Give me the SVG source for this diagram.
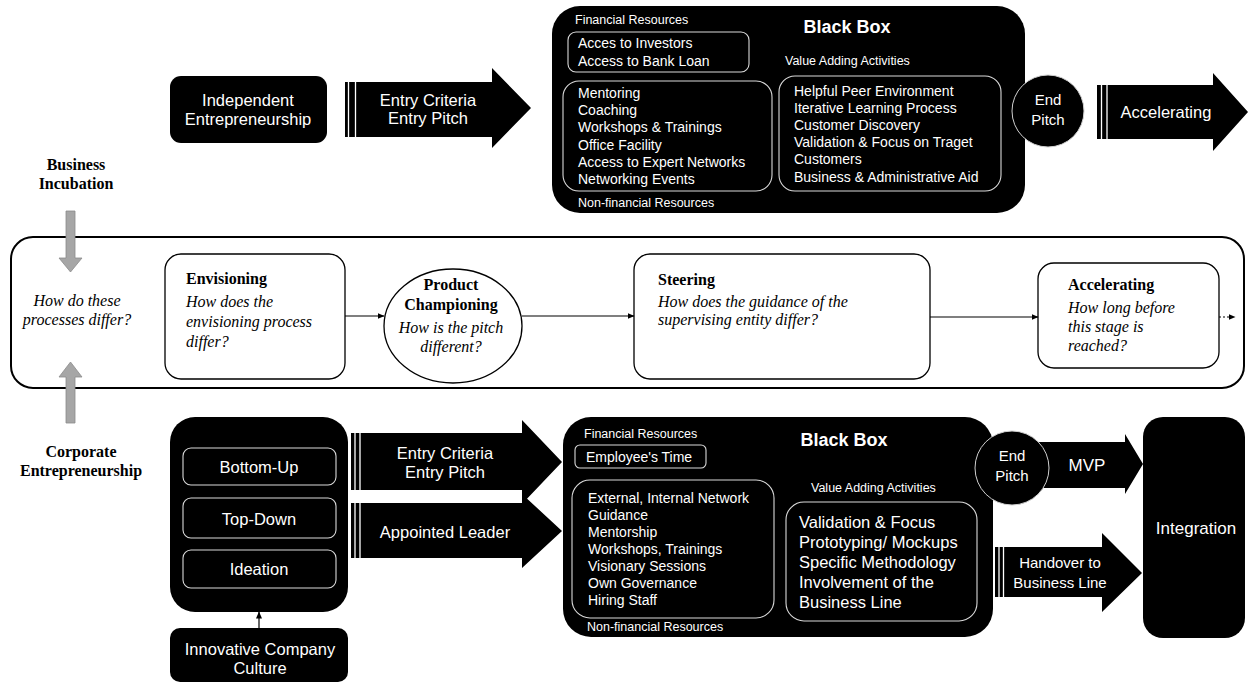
<svg xmlns="http://www.w3.org/2000/svg" width="1251" height="683" viewBox="0 0 1251 683">
<style>
.bk{fill:#000}
.in{fill:none;stroke:#d9d9d9;stroke-width:1.1}
.wt{font-family:"Liberation Sans",Arial,sans-serif;fill:#fff}
.s14{font-size:14px}
.s12{font-size:12.5px}
.lab{font-size:16.5px;text-anchor:middle}
.bb{font-size:18px;font-weight:bold;text-anchor:middle}
.ser{font-family:"Liberation Serif","Times New Roman",serif;fill:#000;font-size:16px}
.b{font-weight:bold}
.i{font-style:italic}
.mid{text-anchor:middle}
.box{fill:#fff;stroke:#000;stroke-width:1.3}
.stripe{stroke:#fff;stroke-width:1.3}
.gray{fill:#a6a6a6;stroke:#8c8c8c;stroke-width:0.8}
.ep{fill:#000;stroke:#d0d0d0;stroke-width:1}
.con{stroke:#000;stroke-width:1.2;fill:none}
</style>
<defs>
<marker id="ah" markerWidth="7" markerHeight="6" refX="6.5" refY="3" orient="auto" markerUnits="userSpaceOnUse">
<path d="M0,0 L7,3 L0,6 Z" fill="#000"/>
</marker>
</defs>

<!-- side labels -->
<g id="label-business-incubation">
<text class="ser b mid" x="76" y="170">Business</text>
<text class="ser b mid" x="76" y="189">Incubation</text>
</g>
<g id="label-corporate">
<text class="ser b mid" x="81" y="457">Corporate</text>
<text class="ser b mid" x="81" y="476">Entrepreneurship</text>
</g>

<!-- middle frame -->
<g id="comparison-frame">
<rect x="11" y="237" width="1233" height="151" rx="22" fill="#fff" stroke="#000" stroke-width="2"/>
<text class="ser i mid" x="77" y="306">How do these</text>
<text class="ser i mid" x="77" y="325">processes  differ?</text>
</g>

<g id="envisioning">
<rect class="box" x="165" y="254" width="180" height="125" rx="16"/>
<text class="ser b" x="186" y="284">Envisioning</text>
<text class="ser i" x="186" y="307">How does the</text>
<text class="ser i" x="186" y="327">envisioning process</text>
<text class="ser i" x="186" y="347">differ?</text>
</g>

<g id="product-championing">
<ellipse cx="453" cy="326" rx="69" ry="57" fill="#fff" stroke="#000" stroke-width="1.3"/>
<text class="ser b mid" x="451" y="290">Product</text>
<text class="ser b mid" x="451" y="310">Championing</text>
<text class="ser i mid" x="451" y="333">How is the pitch</text>
<text class="ser i mid" x="451" y="352">different?</text>
</g>

<g id="steering">
<rect class="box" x="634" y="254" width="296" height="125" rx="16"/>
<text class="ser b" x="658" y="285">Steering</text>
<text class="ser i" x="658" y="307">How does the guidance of the</text>
<text class="ser i" x="658" y="325">supervising  entity differ?</text>
</g>

<g id="accelerating-stage">
<rect class="box" x="1038" y="263" width="181" height="105" rx="16"/>
<text class="ser b" x="1068" y="290">Accelerating</text>
<text class="ser i" x="1068" y="313">How long before</text>
<text class="ser i" x="1068" y="332">this stage is</text>
<text class="ser i" x="1068" y="351">reached?</text>
</g>

<!-- top row -->
<g id="independent-entrepreneurship">
<rect class="bk" x="170" y="76" width="157" height="67" rx="11"/>
<text class="wt lab" x="248" y="106">Independent</text>
<text class="wt lab" x="248" y="125">Entrepreneurship</text>
</g>

<g id="entry-arrow-top">
<polygon class="bk" points="345,82 492,82 492,68 531,108 492,148 492,137 345,137"/>
<line class="stripe" x1="348.5" y1="82" x2="348.5" y2="137"/>
<line class="stripe" x1="355.5" y1="82" x2="355.5" y2="137"/>
<text class="wt lab" x="428" y="106">Entry Criteria</text>
<text class="wt lab" x="428" y="124">Entry Pitch</text>
</g>

<g id="black-box-top">
<rect class="bk" x="552" y="6" width="473" height="207" rx="28"/>
<text class="wt s12" x="575" y="24">Financial Resources</text>
<text class="wt bb" x="847" y="33">Black Box</text>
<rect class="in" x="568" y="32" width="181" height="40" rx="8"/>
<text class="wt s14" x="578" y="48">Acces to Investors</text>
<text class="wt s14" x="578" y="66">Access to Bank Loan</text>
<text class="wt s12" x="785" y="65">Value Adding Activities</text>
<rect class="in" x="563" y="81" width="209" height="110" rx="16"/>
<text class="wt s14" x="578" y="98">Mentoring</text>
<text class="wt s14" x="578" y="115">Coaching</text>
<text class="wt s14" x="578" y="132">Workshops &amp; Trainings</text>
<text class="wt s14" x="578" y="150">Office Facility</text>
<text class="wt s14" x="578" y="167">Access to Expert Networks</text>
<text class="wt s14" x="578" y="184">Networking Events</text>
<rect class="in" x="779" y="76" width="222" height="115" rx="16"/>
<text class="wt s14" x="794" y="96">Helpful Peer Environment</text>
<text class="wt s14" x="794" y="113">Iterative Learning Process</text>
<text class="wt s14" x="794" y="130">Customer Discovery</text>
<text class="wt s14" x="794" y="147">Validation &amp; Focus on Traget</text>
<text class="wt s14" x="794" y="164">Customers</text>
<text class="wt s14" x="794" y="182">Business &amp; Administrative Aid</text>
<text class="wt s12" x="578" y="207">Non-financial Resources</text>
</g>

<g id="end-pitch-top">
<circle class="ep" cx="1048" cy="111" r="36"/>
<text class="wt mid" style="font-size:15px" x="1048" y="105">End</text>
<text class="wt mid" style="font-size:15px" x="1048" y="125">Pitch</text>
</g>

<g id="accelerating-arrow">
<polygon class="bk" points="1097,85 1213,85 1213,73 1248,112 1213,151 1213,139 1097,139"/>
<line class="stripe" x1="1101.5" y1="85" x2="1101.5" y2="139"/>
<line class="stripe" x1="1107" y1="85" x2="1107" y2="139"/>
<text class="wt lab" x="1166" y="118">Accelerating</text>
</g>

<!-- gray arrows -->
<g id="gray-arrow-down">
<polygon class="gray" points="66,211 75,211 75,258 82,258 70.5,272 59,258 66,258"/>
</g>
<g id="gray-arrow-up">
<polygon class="gray" points="70.5,362 82,377 75,377 75,423 66,423 66,377 59,377"/>
</g>

<!-- bottom row -->
<g id="origin-container">
<rect class="bk" x="170" y="417" width="178" height="195" rx="25"/>
<rect class="in" x="183" y="448" width="153" height="37" rx="8"/>
<text class="wt lab" x="259" y="473">Bottom-Up</text>
<rect class="in" x="183" y="498" width="153" height="40" rx="8"/>
<text class="wt lab" x="259" y="525">Top-Down</text>
<rect class="in" x="183" y="550" width="153" height="38" rx="8"/>
<text class="wt lab" x="259" y="575">Ideation</text>
</g>

<g id="innovative-culture">
<rect class="bk" x="170" y="628" width="178" height="54" rx="10"/>
<text class="wt lab" x="260" y="655">Innovative Company</text>
<text class="wt lab" x="260" y="674">Culture</text>
</g>

<g id="entry-arrow-bottom">
<polygon class="bk" points="351,433 522,433 522,420 562,462 522,504 522,490 351,490"/>
<line class="stripe" x1="355" y1="433" x2="355" y2="490"/>
<line class="stripe" x1="360" y1="433" x2="360" y2="490"/>
<text class="wt lab" x="445" y="459">Entry Criteria</text>
<text class="wt lab" x="445" y="478">Entry Pitch</text>
</g>

<g id="appointed-leader-arrow">
<polygon class="bk" points="351,503 522,503 522,494 562,531 522,568 522,558 351,558"/>
<line class="stripe" x1="355" y1="503" x2="355" y2="558"/>
<line class="stripe" x1="360" y1="503" x2="360" y2="558"/>
<text class="wt lab" x="445" y="538">Appointed Leader</text>
</g>

<g id="black-box-bottom">
<rect class="bk" x="563" y="417" width="430" height="220" rx="28"/>
<text class="wt s12" x="584" y="438">Financial Resources</text>
<text class="wt bb" x="844" y="446">Black Box</text>
<rect class="in" x="575" y="445" width="131" height="23" rx="5"/>
<text class="wt s14" x="586" y="462">Employee's Time</text>
<rect class="in" x="572" y="480" width="202" height="138" rx="18"/>
<text class="wt s14" x="588" y="503">External, Internal Network</text>
<text class="wt s14" x="588" y="520">Guidance</text>
<text class="wt s14" x="588" y="537">Mentorship</text>
<text class="wt s14" x="588" y="554">Workshops, Trainings</text>
<text class="wt s14" x="588" y="571">Visionary Sessions</text>
<text class="wt s14" x="588" y="588">Own Governance</text>
<text class="wt s14" x="588" y="605">Hiring Staff</text>
<text class="wt s12" x="587" y="631">Non-financial Resources</text>
<text class="wt s12" x="811" y="492">Value Adding Activities</text>
<rect class="in" x="786" y="502" width="191" height="119" rx="18"/>
<text class="wt" style="font-size:16.5px" x="799" y="528">Validation &amp; Focus</text>
<text class="wt" style="font-size:16.5px" x="799" y="548">Prototyping/ Mockups</text>
<text class="wt" style="font-size:16.5px" x="799" y="568">Specific Methodology</text>
<text class="wt" style="font-size:16.5px" x="799" y="588">Involvement of the</text>
<text class="wt" style="font-size:16.5px" x="799" y="608">Business Line</text>
</g>

<g id="mvp-arrow">
<polygon class="bk" points="1035,442 1125,442 1125,434 1143,464 1125,494 1125,488 1035,488"/>
<text class="wt mid" style="font-size:17px" x="1087" y="471">MVP</text>
</g>

<g id="end-pitch-bottom">
<circle class="ep" cx="1012" cy="468" r="37"/>
<text class="wt mid" style="font-size:15px" x="1012" y="461">End</text>
<text class="wt mid" style="font-size:15px" x="1012" y="481">Pitch</text>
</g>

<g id="handover-arrow">
<polygon class="bk" points="995,547 1102,547 1102,533 1142,573 1102,612 1102,597 995,597"/>
<line class="stripe" x1="999" y1="547" x2="999" y2="597"/>
<line class="stripe" x1="1003.5" y1="547" x2="1003.5" y2="597"/>
<text class="wt mid" style="font-size:15px" x="1060" y="568">Handover to</text>
<text class="wt mid" style="font-size:15px" x="1060" y="588">Business Line</text>
</g>

<g id="integration">
<rect class="bk" x="1143" y="417" width="102" height="221" rx="20"/>
<text class="wt mid" style="font-size:17px" x="1196" y="534">Integration</text>
</g>

<!-- connectors -->
<g id="connectors">
<line class="con" x1="345" y1="316" x2="384" y2="316" marker-end="url(#ah)"/>
<line class="con" x1="522" y1="316" x2="634" y2="316" marker-end="url(#ah)"/>
<line class="con" x1="930" y1="317" x2="1038" y2="317" marker-end="url(#ah)"/>
<line class="con" x1="1219" y1="317" x2="1235" y2="317" stroke-dasharray="2,2" marker-end="url(#ah)"/>
<line class="con" x1="259" y1="628" x2="259" y2="612" marker-end="url(#ah)"/>
</g>
</svg>
